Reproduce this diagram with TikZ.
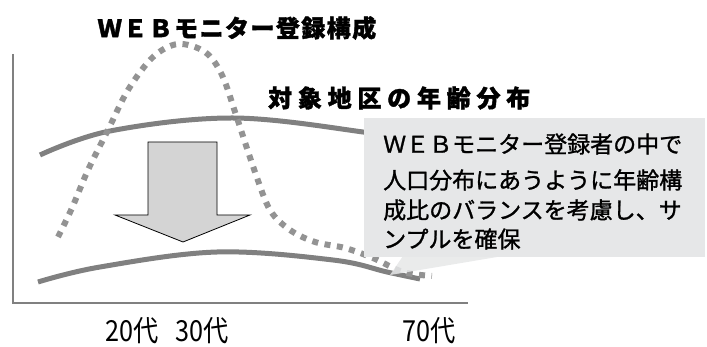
\documentclass[tikz,border=0pt]{standalone}
\usepackage{fontspec}
\setmainfont{Noto Sans CJK JP}
\newfontfamily\jp{Noto Sans CJK JP}
\definecolor{curvegray}{HTML}{808080}
\definecolor{dotgray}{HTML}{939393}
\definecolor{boxgray}{HTML}{E6E7E8}
\definecolor{arrowgray}{HTML}{D4D4D4}
\begin{document}
\begin{tikzpicture}[x=1pt,y=-1pt,
  axisline/.style={draw=curvegray,line width=1.3pt},
  distcurve/.style={draw=curvegray,line width=5pt},
  webcurve/.style={draw=dotgray,line width=6pt,dash pattern=on 6pt off 6.5pt},
  headtext/.style={font=\jp\bfseries\fontsize{24}{28}\selectfont,inner sep=0pt},
  bodytext/.style={font=\jp\fontsize{23}{28}\selectfont,inner sep=0pt,anchor=west},
  agetext/.style={font=\jp\fontsize{29}{32}\selectfont\addfontfeature{FakeStretch=0.87},inner sep=0pt,anchor=west}]
\useasboundingbox (0,0) rectangle (707,347);
% axes
\coordinate (ytop) at (13,54);
\coordinate (origin) at (13,303);
\coordinate (xend) at (468,303);
\draw[axisline] (ytop) -- (origin) -- (xend);
% population curve (top)
\draw[distcurve] plot[smooth,tension=0.6] coordinates {(40,155) (110,131) (233,118) (363,132) (400,140)};
% population curve (bottom)
\draw[distcurve] plot[smooth,tension=0.6] coordinates {(38,282) (100,267) (217,252) (333,260) (387,272) (420,279)};
% big arrow
\draw[fill=arrowgray,draw=black,line width=0.8pt]
  (148,142) -- (217,142) -- (217,215) -- (250,215) -- (183,242) -- (115,215) -- (148,215) -- cycle;
% web monitor curve
\draw[webcurve] plot[smooth,tension=0.55] coordinates {(58,237) (72,208) (88,170) (108,130) (128,90) (153,57) (178,44) (205,52) (222,75) (237,118) (255,172) (270,210) (290,230) (315,242) (345,248) (373,258) (403,272) (432,276)};
% callout
\fill[boxgray] (364,118) rectangle (705,257);
\fill[boxgray,fill opacity=0.85] (403,256) -- (503,256) -- (390,275) -- cycle;
\node[bodytext] (l1) at (383,144) {\addfontfeature{FakeBold=1.2}ＷＥＢモニター登録者の中で};
\node[bodytext] (l2) at (383,180) {\addfontfeature{FakeBold=1.2}人口分布にあうように年齢構};
\node[bodytext] (l3) at (383,210) {\addfontfeature{FakeBold=1.2}成比のバランスを考慮し、サ};
\node[bodytext] (l4) at (383,239) {\addfontfeature{FakeBold=1.2}ンプルを確保};
% headings
\node[headtext] (title) at (237,28) {\addfontfeature{LetterSpace=6,FakeBold=1.5}ＷＥＢモニター登録構成};
\node[headtext,anchor=west] (area) at (268,98) {\addfontfeature{LetterSpace=24,FakeBold=1.5}対象地区の年齢分布};
% age labels
\node[agetext] (a20) at (105,331) {20代};
\node[agetext] (a30) at (175,331) {30代};
\node[agetext] (a70) at (402,331) {70代};
\end{tikzpicture}
\end{document}
